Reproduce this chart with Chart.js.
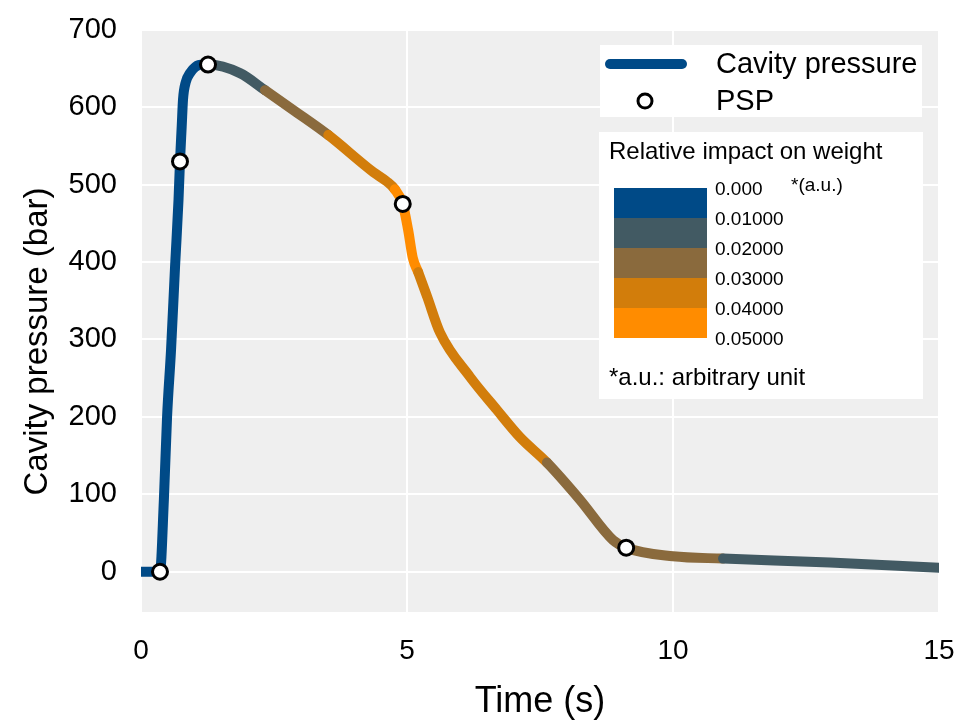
<!DOCTYPE html>
<html>
<head>
<meta charset="utf-8">
<script src="https://cdn.jsdelivr.net/npm/chart.js@4/dist/chart.umd.min.js"></script>
<style>
  html, body { margin: 0; padding: 0; background: #fff; }
  #wrap { width: 962px; height: 724px; }
</style>
</head>
<body>
<div id="wrap"><canvas id="myChart" width="962" height="724"></canvas></div>
<script>
// cavity pressure curve
const time = [0, 0.357, 0.43, 0.49, 0.565, 0.64, 0.705, 0.733, 0.765, 0.79, 0.84, 0.92, 1.02, 1.17,
    1.26, 1.86, 2.33, 2.89, 3.52, 4.37, 4.62, 4.77, 4.92, 5.02, 5.11, 5.21, 5.38, 5.62,
    6.18, 6.69, 7.12, 7.63, 8.25, 8.87, 9.12, 10.0, 10.94, 12.95, 15];
const pressure = [0, 0, 93, 200, 287, 394, 480, 530, 575, 610, 632, 644, 652, 655,
    655, 644, 622, 595, 564, 516, 504, 494, 475, 442, 405, 387, 355, 309,
    252, 209, 174, 141, 93, 41, 31, 20, 17, 12, 5];
// relative impact on weight for the segment starting at each point (a.u.)
const impact = [0.005, 0.005, 0.005, 0.005, 0.005, 0.005, 0.005, 0.005, 0.005, 0.005, 0.005, 0.005, 0.005, 0.005,
    0.015, 0.015, 0.025, 0.025, 0.035, 0.035, 0.035, 0.045, 0.045, 0.045, 0.045, 0.035, 0.035, 0.035,
    0.035, 0.035, 0.035, 0.025, 0.025, 0.025, 0.025, 0.025, 0.015, 0.015, 0.015];

// PSP markers
const pspTime = [0.357, 0.733, 1.26, 4.92, 9.12];
const pspPressure = [0, 530, 655, 475, 31];

const xTicks = [0, 5, 10, 15];
const yTicks = [0, 100, 200, 300, 400, 500, 600, 700];
const barLabels = ['0.000', '0.01000', '0.02000', '0.03000', '0.04000', '0.05000'];
const barColors = ['#004a87', '#425a63', '#8a6a3d', '#d27d0b', '#ff8c00'];

const FONT = "'Liberation Sans', Arial, sans-serif";
const LINE_W = 10;

function impactColor(v) {
    const i = Math.min(barColors.length - 1, Math.floor(v / 0.01));
    return barColors[i];
}

const panelBg = {
    id: 'panelBg',
    beforeDraw(chart) {
        const {ctx, chartArea: a} = chart;
        ctx.save();
        ctx.fillStyle = '#efefef';
        ctx.fillRect(a.left, a.top, a.right - a.left, a.bottom - a.top);
        ctx.restore();
    }
};

// y axis title sits a bit below the centre of the panel in the original
const yTitle = {
    id: 'yTitle',
    afterDraw(chart) {
        const {ctx, chartArea: a} = chart;
        ctx.save();
        ctx.translate(38, (a.top + a.bottom) / 2 + 21);
        ctx.rotate(-Math.PI / 2);
        ctx.font = '33px ' + FONT;
        ctx.fillStyle = '#000';
        ctx.textAlign = 'center';
        ctx.textBaseline = 'middle';
        ctx.fillText('Cavity pressure (bar)', 0, 0);
        ctx.restore();
    }
};

const legendBoxes = {
    id: 'legendBoxes',
    afterDraw(chart) {
        const {ctx, chartArea: a} = chart;
        const x0 = a.right - 339, y0 = a.top + 16;
        ctx.save();
        // box 1
        ctx.fillStyle = '#fff';
        ctx.fillRect(x0, y0, 322, 72);
        ctx.lineCap = 'round';
        ctx.strokeStyle = barColors[0];
        ctx.lineWidth = 10;
        ctx.beginPath();
        ctx.moveTo(x0 + 10, y0 + 19);
        ctx.lineTo(x0 + 82, y0 + 19);
        ctx.stroke();
        ctx.beginPath();
        ctx.arc(x0 + 45, y0 + 56, 7, 0, Math.PI * 2);
        ctx.fillStyle = '#fff';
        ctx.fill();
        ctx.lineWidth = 3;
        ctx.strokeStyle = '#000';
        ctx.stroke();
        ctx.fillStyle = '#000';
        ctx.font = '29px ' + FONT;
        ctx.textBaseline = 'middle';
        ctx.fillText('Cavity pressure', x0 + 116, y0 + 20);
        ctx.fillText('PSP', x0 + 116, y0 + 57);

        // box 2: colour bar
        const bx = x0 - 1, by = y0 + 87;
        ctx.fillStyle = '#fff';
        ctx.fillRect(bx, by, 324, 267);
        ctx.fillStyle = '#000';
        ctx.font = '24px ' + FONT;
        ctx.fillText('Relative impact on weight', bx + 10, by + 20);
        barColors.forEach((c, i) => {
            ctx.fillStyle = c;
            ctx.fillRect(bx + 15, by + 56 + i * 30, 93, 30);
        });
        ctx.fillStyle = '#000';
        ctx.font = '19px ' + FONT;
        barLabels.forEach((t, i) => {
            ctx.fillText(t, bx + 116, by + 58 + i * 30);
        });
        ctx.fillText('*(a.u.)', bx + 192, by + 54);
        ctx.font = '24px ' + FONT;
        ctx.fillText('*a.u.: arbitrary unit', bx + 10, by + 246);
        ctx.restore();
    }
};

const ctx = document.getElementById('myChart');

const config = {
    type: 'line',
    data: {
        datasets: [
            {
                label: 'PSP',
                data: pspTime.map((t, i) => ({x: t, y: pspPressure[i]})),
                showLine: false,
                pointRadius: 7.5,
                pointBorderWidth: 3,
                pointBorderColor: '#000',
                pointBackgroundColor: '#fff',
                order: 0
            },
            {
                label: 'Cavity pressure',
                data: time.map((t, i) => ({x: t, y: pressure[i]})),
                borderWidth: LINE_W,
                borderColor: barColors[0],
                borderCapStyle: 'round',
                borderJoinStyle: 'round',
                pointRadius: 0,
                tension: 0.25,
                cubicInterpolationMode: 'monotone',
                fill: false,
                segment: {
                    borderWidth: LINE_W,
                    borderColor: c => impactColor(impact[c.p0DataIndex])
                },
                order: 1
            }
        ]
    },
    options: {
        responsive: false,
        animation: false,
        devicePixelRatio: 1,
        layout: {padding: {top: 29, right: 23, left: 0, bottom: 0}},
        plugins: {
            legend: {display: false},
            tooltip: {enabled: false}
        },
        scales: {
            x: {
                type: 'linear',
                min: 0,
                max: 15,
                afterBuildTicks: s => { s.ticks = xTicks.map(v => ({value: v})); },
                afterFit: s => { s.height = 112; s.paddingLeft = 0; s.paddingRight = 0; },
                grid: {color: '#fff', lineWidth: 2, drawTicks: false},
                border: {display: false},
                ticks: {
                    color: '#000',
                    padding: 22,
                    maxRotation: 0,
                    font: {family: FONT, size: 28}
                },
                title: {
                    display: true,
                    text: 'Time (s)',
                    color: '#000',
                    font: {family: FONT, size: 36},
                    padding: {top: 0, bottom: 0}
                }
            },
            y: {
                min: -52,
                max: 701,
                afterBuildTicks: s => { s.ticks = yTicks.map(v => ({value: v})); },
                afterFit: s => { s.width = 141; s.paddingTop = 0; s.paddingBottom = 0; },
                grid: {color: '#fff', lineWidth: 2, drawTicks: false},
                border: {display: false},
                ticks: {
                    color: '#000',
                    padding: 24,
                    font: {family: FONT, size: 29}
                }
            }
        }
    },
    plugins: [panelBg, yTitle, legendBoxes]
};

new Chart(ctx, config);
</script>
</body>
</html>
